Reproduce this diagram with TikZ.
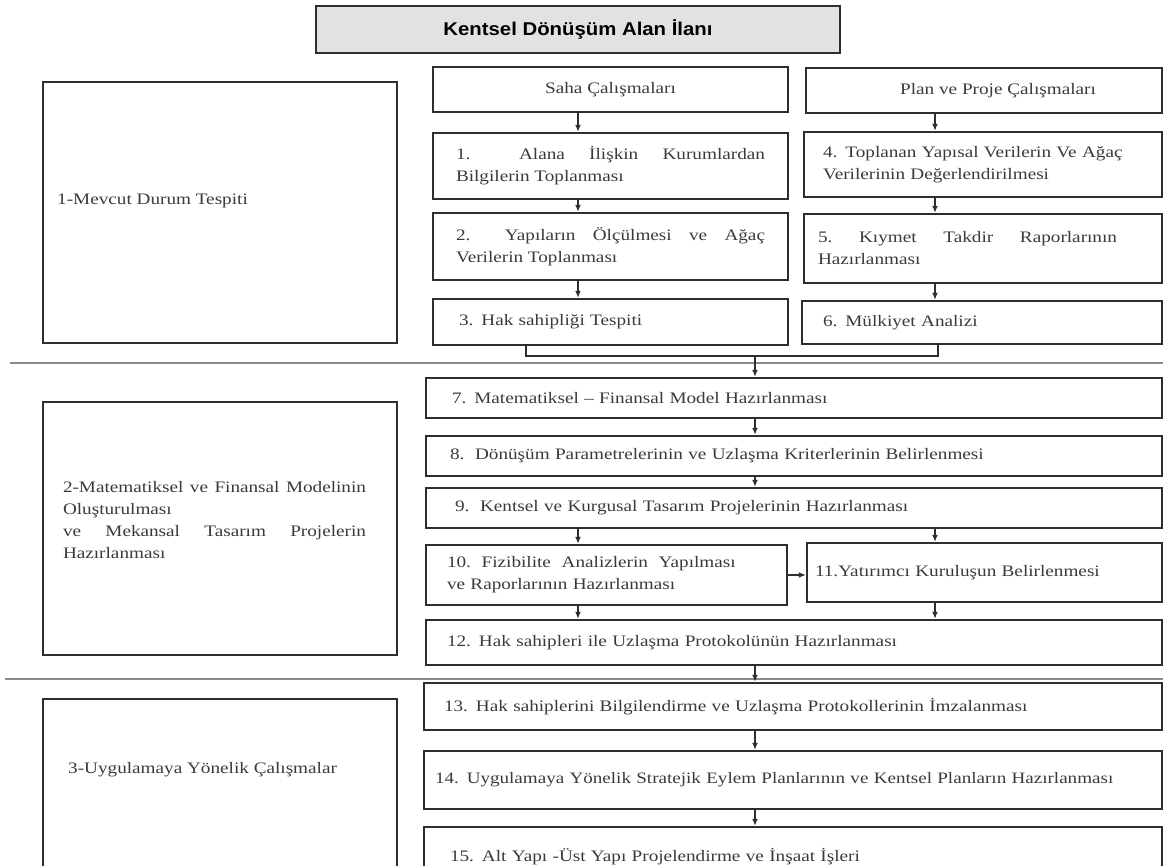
\documentclass[tikz,border=0pt]{standalone}
\usepackage{fontspec}
\setmainfont{Liberation Serif}[FakeStretch=1.2]
\newfontfamily\baslikfont{Liberation Sans}[FakeStretch=1.1]
\usetikzlibrary{arrows.meta}
\definecolor{cizgi}{HTML}{2E2E2E}
\definecolor{yazi}{HTML}{3A3A3A}
\definecolor{ayracgri}{HTML}{8A8A8A}
\definecolor{baslikgri}{HTML}{E2E2E2}

\begin{document}
\begin{tikzpicture}[x=1pt,y=-1pt,
    kutu/.style={draw=cizgi,line width=2.4pt,rectangle,inner sep=0pt,text=yazi,
      font=\fontsize{16}{22}\selectfont},
    yazi/.style={inner sep=0pt,text=yazi,font=\fontsize{16}{22}\selectfont},
    ok/.style={draw=cizgi,line width=1.6pt,-{Latex[length=7pt,width=6pt]}},
    baglanti/.style={draw=cizgi,line width=1.6pt},
    ayrac/.style={draw=ayracgri,line width=2.4pt}]
  \useasboundingbox (0,0) rectangle (1163,866);
  \clip (0,0) rectangle (1163,866);

  % baslik
  \node[kutu,fill=baslikgri,minimum width=524pt,minimum height=47pt,
    font=\baslikfont\bfseries\fontsize{18.5}{20}\selectfont,text=black] (baslik) at (578,29.5)
    {Kentsel Dönüşüm Alan İlanı};

  % asama ayraclari
  \draw[ayrac] (10,363) -- (1163,363);
  \draw[ayrac] (5,679) -- (1163,679);

  % sol asama kutulari
  \node[kutu,minimum width=354pt,minimum height=261pt] (sol1) at (220,212.5) {};
  \node[yazi,anchor=west] (sol1yazi) at (57,201) {1-Mevcut Durum Tespiti};
  \node[kutu,minimum width=354pt,minimum height=253pt] (sol2) at (220,528.5) {};
  \node[yazi,text width=303pt,align=justify] (sol2yazi) at (214.5,520)
    {2-Matematiksel ve Finansal Modelinin\linebreak Oluşturulması\\ ve Mekansal Tasarım Projelerin\linebreak Hazırlanması};
  \node[kutu,minimum width=354pt,minimum height=201pt] (sol3) at (220,799.5) {};
  \node[yazi,anchor=west] (sol3yazi) at (68,770) {3-Uygulamaya Yönelik Çalışmalar};

  % saha ve plan calismalari
  \node[kutu,minimum width=355pt,minimum height=45pt] (saha) at (610.5,89.5) {Saha Çalışmaları};
  \node[kutu,minimum width=356pt,minimum height=45pt] (plan) at (984,90.5) {\hspace*{28pt}Plan ve Proje Çalışmaları};
  \node[kutu,minimum width=355pt,minimum height=66pt,text width=309pt,align=justify] (k1) at (610.5,166)
    {1.\ \ Alana İlişkin Kurumlardan\linebreak Bilgilerin Toplanması};
  \node[kutu,minimum width=355pt,minimum height=67pt,text width=309pt,align=justify] (k2) at (610.5,246.5)
    {2.\ \ Yapıların Ölçülmesi ve Ağaç\linebreak Verilerin Toplanması};
  \node[kutu,minimum width=355pt,minimum height=46pt,text width=303pt,align=left] (k3) at (610.5,322)
    {3. Hak sahipliği Tespiti};
  \node[kutu,minimum width=358pt,minimum height=65pt,text width=320pt,align=left] (k4) at (983,164.5)
    {4. Toplanan Yapısal Verilerin Ve Ağaç\\ Verilerinin Değerlendirilmesi};
  \node[kutu,minimum width=358pt,minimum height=69pt,text width=330pt,align=left] (k5) at (983,248.5)
    {\makebox[299pt][l]{5.\hfill Kıymet\hfill Takdir\hfill Raporlarının}\\ Hazırlanması};
  \node[kutu,minimum width=360pt,minimum height=43pt,text width=318pt,align=left] (k6) at (982,322.5)
    {6. Mülkiyet Analizi};

  % model ve tasarim
  \node[kutu,minimum width=736pt,minimum height=40pt,text width=684pt,align=left] (k7) at (794,398)
    {7. Matematiksel -- Finansal Model Hazırlanması};
  \node[kutu,minimum width=736pt,minimum height=40pt,text width=688pt,align=left] (k8) at (794,456)
    {8.\ \ Dönüşüm Parametrelerinin ve Uzlaşma Kriterlerinin Belirlenmesi};
  \node[kutu,minimum width=736pt,minimum height=40pt,text width=678pt,align=left] (k9) at (794,508)
    {9.\ \ Kentsel ve Kurgusal Tasarım Projelerinin Hazırlanması};
  \node[kutu,minimum width=361pt,minimum height=60pt,text width=319pt,align=left] (k10) at (606.5,575)
    {10.\ \ Fizibilite\ \ Analizlerin\ \ Yapılması\\ ve Raporlarının Hazırlanması};
  \node[kutu,minimum width=355pt,minimum height=59pt,text width=339pt,align=left] (k11) at (984.5,572.5)
    {11.Yatırımcı Kuruluşun Belirlenmesi};
  \node[kutu,minimum width=736pt,minimum height=45pt,text width=694pt,align=left] (k12) at (794,642.5)
    {12. Hak sahipleri ile Uzlaşma Protokolünün Hazırlanması};

  % uygulama
  \node[kutu,minimum width=738pt,minimum height=47pt,text width=698pt,align=left] (k13) at (793,706.5)
    {13. Hak sahiplerini Bilgilendirme ve Uzlaşma Protokollerinin İmzalanması};
  \node[kutu,minimum width=738pt,minimum height=58pt,text width=716pt,align=left,
    font=\fontsize{15.9}{22}\selectfont] (k14) at (793,780)
    {14. Uygulamaya Yönelik Stratejik Eylem Planlarının ve Kentsel Planların Hazırlanması};
  \node[kutu,minimum width=738pt,minimum height=60pt,text width=686pt,align=left] (k15) at (793,857)
    {15. Alt Yapı -Üst Yapı Projelendirme ve İnşaat İşleri};

  % oklar
  \coordinate (solx) at (578,0);
  \coordinate (ortax) at (755,0);
  \coordinate (sagx) at (935,0);
  \foreach \a/\b in {saha/k1,k1/k2,k2/k3,k9/k10,k10/k12}
    \draw[ok] (\a.south -| solx) -- (\b.north -| solx);
  \foreach \a/\b in {plan/k4,k4/k5,k5/k6,k9/k11,k11/k12}
    \draw[ok] (\a.south -| sagx) -- (\b.north -| sagx);
  \foreach \a/\b in {k7/k8,k8/k9,k12/k13,k13/k14,k14/k15}
    \draw[ok] (\a.south -| ortax) -- (\b.north -| ortax);
  \coordinate (b1) at (526,356);
  \coordinate (b2) at (938,356);
  \draw[baglanti] (k3.south -| b1) -- (b1) -- (b2) -- (k6.south -| b2);
  \draw[ok] (b1 -| ortax) -- (k7.north -| ortax);
  \draw[ok] (k10.east) -- (k11.west |- k10.east);
\end{tikzpicture}
\end{document}
